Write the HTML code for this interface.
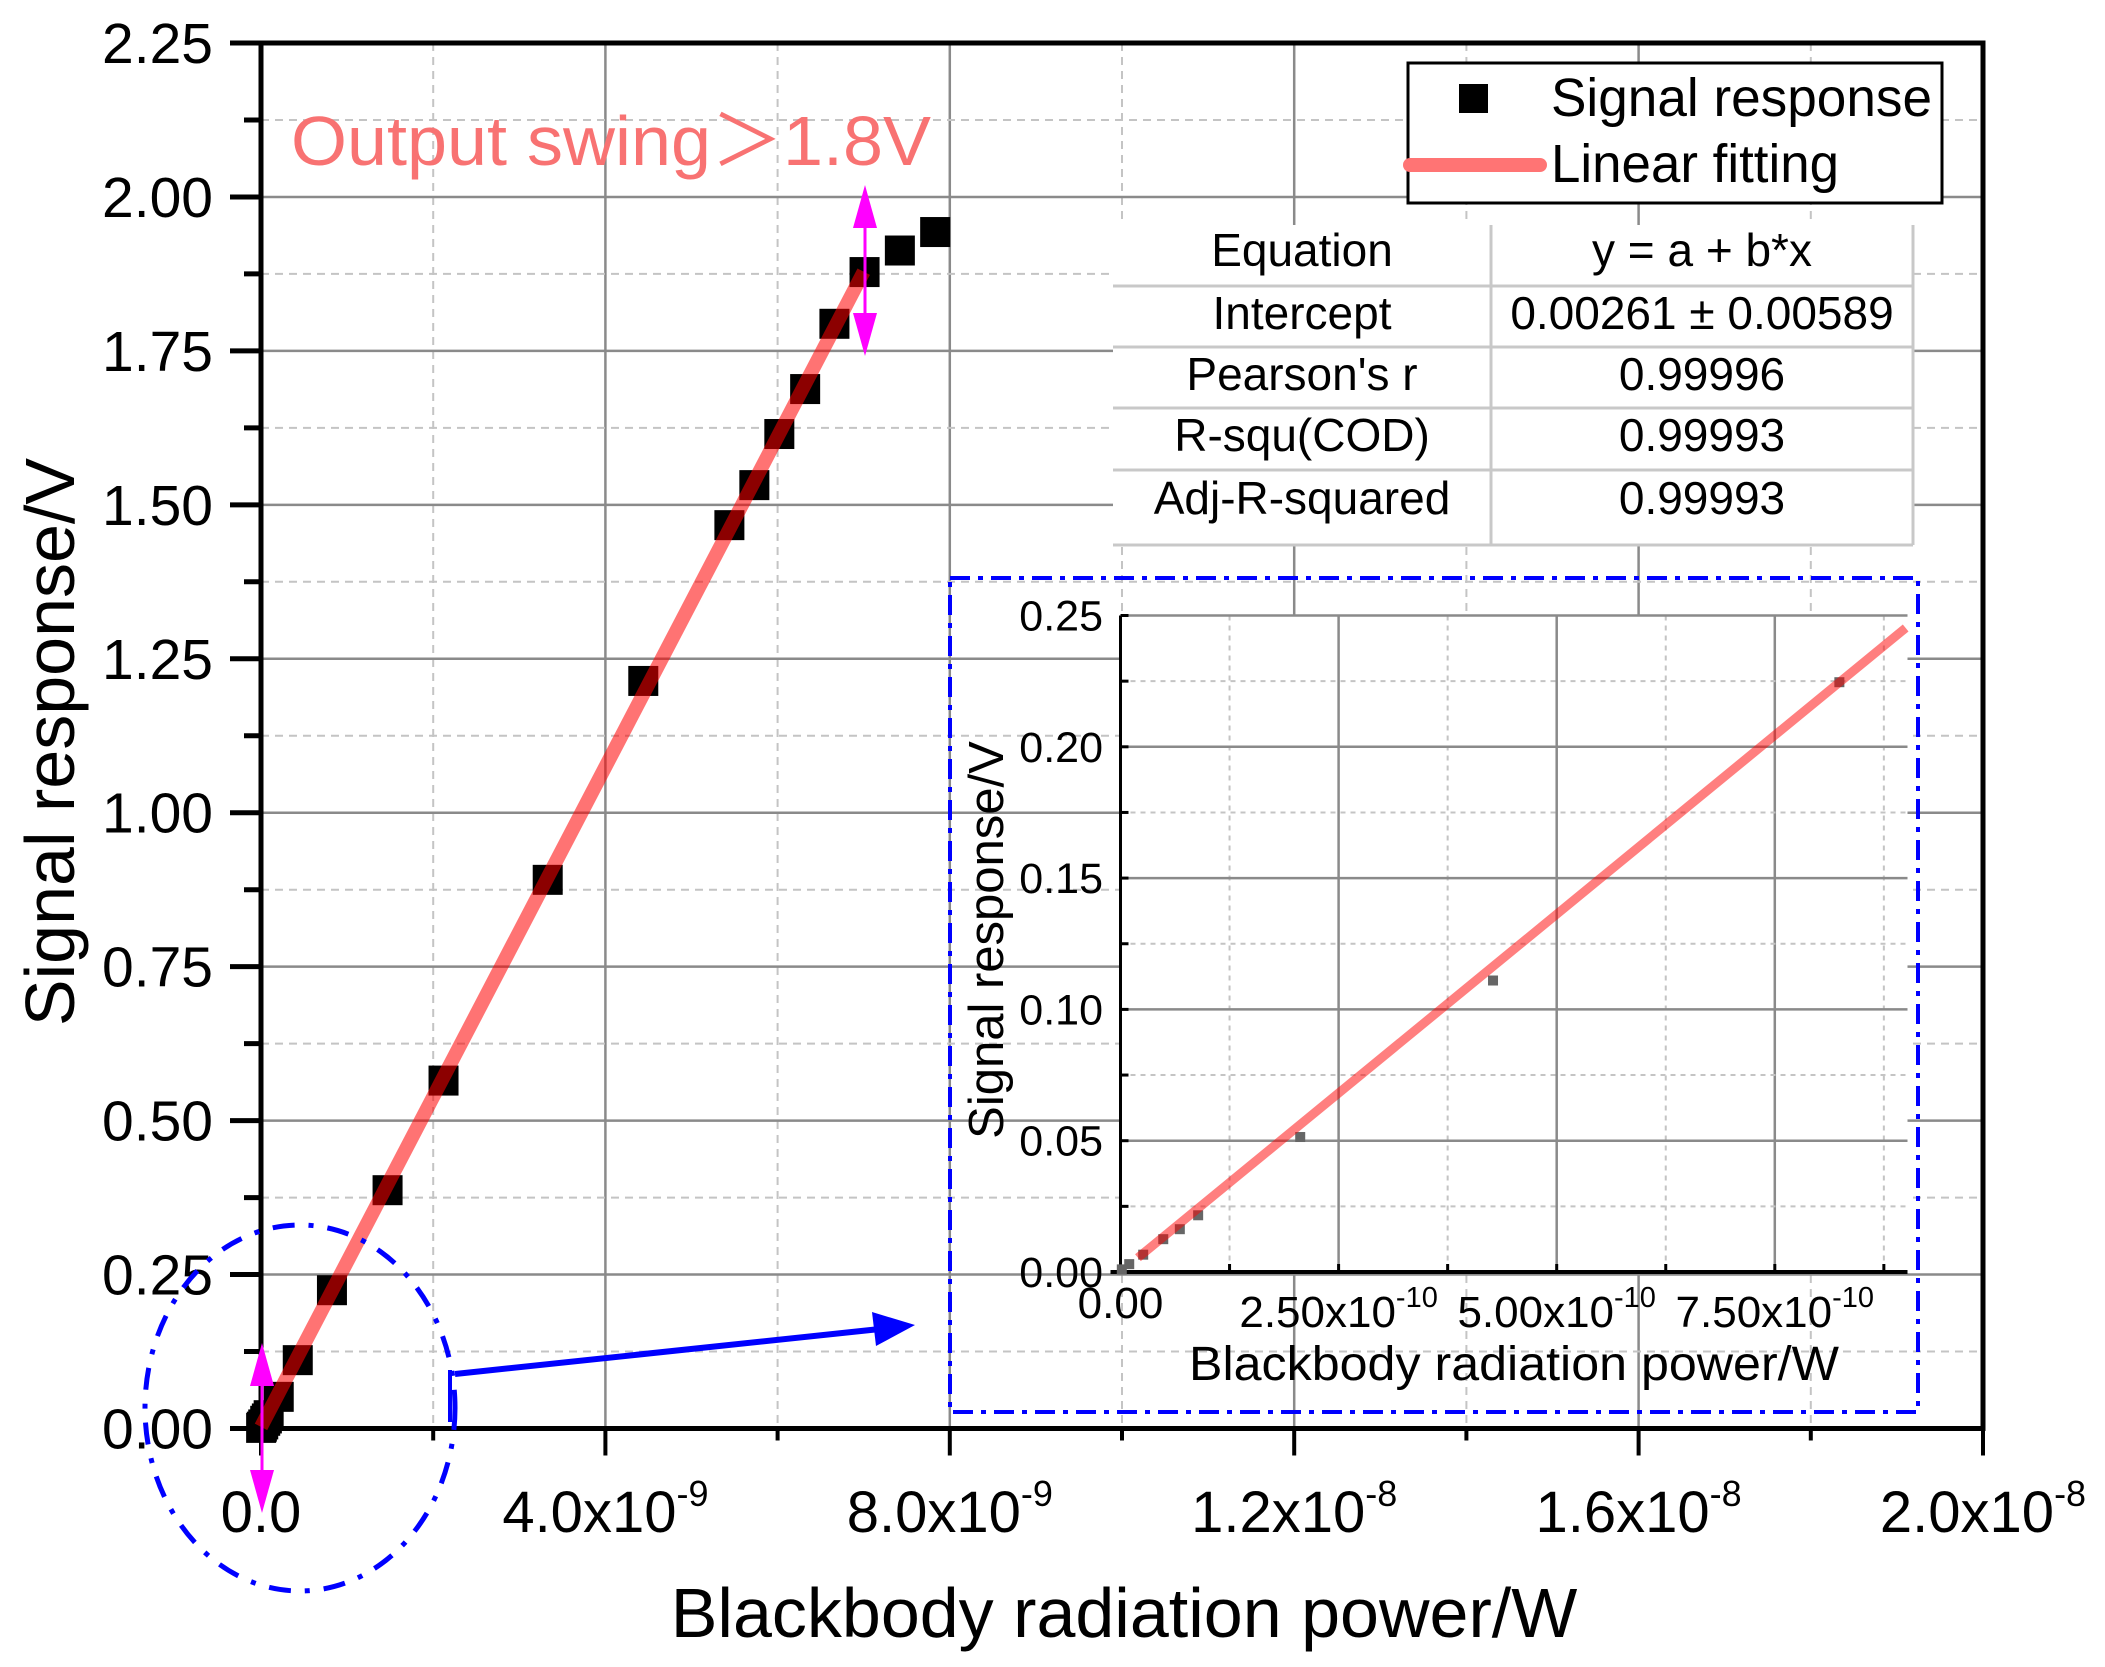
<!DOCTYPE html>
<html><head><meta charset="utf-8">
<style>
html,body{margin:0;padding:0;background:#fff;}
svg{display:block;}
text{font-family:"Liberation Sans","Noto Sans CJK SC",sans-serif;}
</style></head>
<body>
<svg id="chart" width="2105" height="1667" viewBox="0 0 2105 1667" xmlns="http://www.w3.org/2000/svg">
<rect x="0" y="0" width="2105" height="1667" fill="#fff"/>
<g id="main"></g>
</svg>
<script>
// ---- data (x in units of 1e-9 W, y in V) ----
const powerNW = [0.0015,0.010,0.026,0.049,0.068,0.089,0.206,0.427,0.824,1.47,2.12,3.33,4.44,5.44,5.73,6.02,6.32,6.66,7.01,7.42,7.83];
const signalV = [0.001,0.003,0.0066,0.0125,0.0163,0.0216,0.0514,0.111,0.2246,0.387,0.565,0.891,1.214,1.467,1.532,1.615,1.688,1.794,1.878,1.913,1.943];
const fitIntercept = 0.00261;
const fitSlopePerNW = 0.268;
const insetFitSlopePerNW = 0.2725;
const fitEndNW = 7.0;
const insetFitEndNW = 0.9;
const yTickLabels = ["0.00","0.25","0.50","0.75","1.00","1.25","1.50","1.75","2.00","2.25"];
const xTickMantissa = ["0.0","4.0x10","8.0x10","1.2x10","1.6x10","2.0x10"];
const xTickExp = ["","-9","-9","-8","-8","-8"];
const insetYTickLabels = ["0.00","0.05","0.10","0.15","0.20","0.25"];
const insetXTickMantissa = ["0.00","2.50x10","5.00x10","7.50x10"];
const insetXTickExp = ["","-10","-10","-10"];
const tableLabels = ["Equation","Intercept","Pearson's r","R-squ(COD)","Adj-R-squared"];
const tableValues = ["y = a + b*x","0.00261 \u00b1 0.00589","0.99996","0.99993","0.99993"];

const NS="http://www.w3.org/2000/svg";
const root=document.getElementById('main');
function mk(tag,attrs,parent){const e=document.createElementNS(NS,tag);for(const k in attrs)e.setAttribute(k,attrs[k]);(parent||root).appendChild(e);return e;}

const L=261,R=1983,T=43,B=1428.5;
const X=v=>L+(v/20)*(R-L);
const Y=v=>B-(v/2.25)*(B-T);
const IL=1120.5,IR=1907.5,IT=615.5,IB=1272;
const IX=v=>IL+(v/0.25)*218.1;
const IY=v=>IB-(v/0.25)*(IB-IT);

for(let i=0;i<=10;i++){const v=i*2;const x=X(v);
  const g=mk('line',{x1:x,y1:T,x2:x,y2:B,stroke:i%2==0?'#8a8a8a':'#c4c4c4','stroke-width':i%2==0?2.5:2,'stroke-dasharray':i%2==0?'none':'8 6'});
  
  
}
for(let i=1;i<=18;i++){const v=i*0.125;const y=Y(v);
  const g=mk('line',{x1:L,y1:y,x2:R,y2:y,stroke:i%2==0?'#8a8a8a':'#c4c4c4','stroke-width':i%2==0?2.5:2,'stroke-dasharray':i%2==0?'none':'8 6'});
  
  
}
for(let i=0;i<=18;i++){const y=Y(i*0.125);
  const t=mk('line',{x1:L-(i%2==0?31:17),y1:y,x2:L,y2:y,stroke:'#000','stroke-width':5});
  
  
}
for(let i=0;i<=10;i++){const x=X(i*2);
  const t=mk('line',{x1:x,y1:B,x2:x,y2:B+(i%2==0?27:12),stroke:'#000','stroke-width':4});
  
  
}
const fr=mk('rect',{x:L,y:T,width:R-L,height:B-T,fill:'none',stroke:'#000','stroke-width':5});



yTickLabels.forEach((s,i)=>{const t=mk('text',{x:213,y:Y(i*0.25)+20,'text-anchor':'end','font-size':57,fill:'#000'});t.textContent=s;
  
  
});
xTickMantissa.forEach((s,i)=>{const t=mk('text',{x:X(i*4),y:1532,'text-anchor':'middle','font-size':58,fill:'#000'});
  t.textContent=s;
  if(xTickExp[i]){const sp=mk('tspan',{'font-size':36,dy:-26},t);sp.textContent=xTickExp[i];}
  
  
});
let t=mk('text',{x:1124,y:1637,'text-anchor':'middle','font-size':70,fill:'#000'});t.textContent='Blackbody radiation power/W';


t=mk('text',{x:0,y:0,'text-anchor':'middle','font-size':70,fill:'#000',transform:'translate(74,742) rotate(-90)'});t.textContent='Signal response/V';



t=mk('text',{x:291,y:165,'font-size':70,fill:'#f87272',textLength:640,lengthAdjust:'spacingAndGlyphs'});t.textContent='Output swing\uFF1E1.8V';



powerNW.forEach((v,i)=>{const m=mk('rect',{x:X(v)-15,y:Y(signalV[i])-15,width:30,height:30,fill:'#000'});
  
  
});
let fl=mk('line',{x1:X(0),y1:Y(fitIntercept),x2:X(fitEndNW),y2:Y(fitIntercept+fitSlopePerNW*fitEndNW),stroke:'rgb(255,0,0)','stroke-opacity':0.55,'stroke-width':14,'stroke-linecap':'butt'});



function dblArrow(x,y1,y2,name){const g=mk('g',{});
  
  
  mk('line',{x1:x,y1:y1+10,x2:x,y2:y2-10,stroke:'#ff00ff','stroke-width':3},g);
  mk('polygon',{points:`${x},${y1} ${x-12},${y1+43} ${x+12},${y1+43}`,fill:'#ff00ff'},g);
  mk('polygon',{points:`${x},${y2} ${x-12},${y2-43} ${x+12},${y2-43}`,fill:'#ff00ff'},g);
}
dblArrow(865,185,356,'swing-arrow-top');
dblArrow(262,1343,1513,'swing-arrow-bottom');

let el=mk('ellipse',{cx:300,cy:1408,rx:155,ry:183,fill:'none',stroke:'#0000ff','stroke-width':5,'stroke-dasharray':'22 14 5 14'});


let ar=mk('g',{});


mk('line',{x1:450,y1:1370,x2:450,y2:1422,stroke:'#0000ff','stroke-width':4},ar);
mk('line',{x1:455,y1:1374,x2:880,y2:1329,stroke:'#0000ff','stroke-width':6},ar);
mk('polygon',{points:'915,1325 872,1312 876,1346',fill:'#0000ff'},ar);

const lg=mk('g',{});


mk('rect',{x:1408,y:63,width:534,height:140,fill:'#fff',stroke:'#000','stroke-width':3},lg);
mk('rect',{x:1459,y:84,width:29,height:29,fill:'#000'},lg);
mk('line',{x1:1410,y1:165,x2:1540,y2:165,stroke:'#ff7474','stroke-width':14,'stroke-linecap':'round'},lg);
t=mk('text',{x:1551,y:116,'font-size':54,fill:'#000',textLength:381,lengthAdjust:'spacingAndGlyphs'},lg);t.textContent='Signal response';


t=mk('text',{x:1551,y:182,'font-size':54,fill:'#000',textLength:288,lengthAdjust:'spacingAndGlyphs'},lg);t.textContent='Linear fitting';



const tb=mk('g',{});


mk('rect',{x:1113,y:225,width:800,height:320,fill:'#fff'},tb);
const rowEdges=[225,286,347,408,470,545];
rowEdges.slice(1).forEach(y=>mk('line',{x1:1113,y1:y,x2:1913,y2:y,stroke:'#c8c8c8','stroke-width':3},tb));
mk('line',{x1:1491,y1:225,x2:1491,y2:545,stroke:'#c8c8c8','stroke-width':3},tb);
mk('line',{x1:1913,y1:225,x2:1913,y2:545,stroke:'#c8c8c8','stroke-width':3},tb);
const rowBase=[266,329,390,451,514];
tableLabels.forEach((s,i)=>{const c=mk('text',{x:1302,y:rowBase[i],'text-anchor':'middle','font-size':46,fill:'#000'},tb);c.textContent=s;
  
  
  const d=mk('text',{x:1702,y:rowBase[i],'text-anchor':'middle','font-size':46,fill:'#000'},tb);d.textContent=tableValues[i];
  
  
});

const ins=mk('g',{});


mk('rect',{x:IL,y:IT,width:IR-IL,height:IB-IT,fill:'#fff'},ins);
for(let i=1;i<=7;i++){const x=IX(i*0.125);
  mk('line',{x1:x,y1:IT,x2:x,y2:IB,stroke:i%2==0?'#8a8a8a':'#c4c4c4','stroke-width':i%2==0?2.5:2,'stroke-dasharray':i%2==0?'none':'5 5'},ins);
}
for(let i=1;i<=10;i++){const y=IY(i*0.025);
  mk('line',{x1:IL,y1:y,x2:IR,y2:y,stroke:i%2==0?'#8a8a8a':'#c4c4c4','stroke-width':i%2==0?2.5:2,'stroke-dasharray':i%2==0?'none':'5 5'},ins);
}
mk('line',{x1:IL,y1:IT,x2:IL,y2:IB+2,stroke:'#000','stroke-width':3},ins);
mk('line',{x1:IL-10,y1:IB,x2:IR,y2:IB,stroke:'#000','stroke-width':4},ins);
for(let i=1;i<=7;i++){mk('line',{x1:IX(i*0.125),y1:IB,x2:IX(i*0.125),y2:IB-8,stroke:'#000','stroke-width':3},ins);}
for(let i=1;i<=10;i++){mk('line',{x1:IL,y1:IY(i*0.025),x2:IL+8,y2:IY(i*0.025),stroke:'#000','stroke-width':3},ins);}
insetYTickLabels.forEach((s,i)=>{const c=mk('text',{x:1103,y:IY(i*0.05)+15,'text-anchor':'end','font-size':43,fill:'#000'},ins);c.textContent=s;
  
  
});
insetXTickMantissa.forEach((s,i)=>{const c=mk('text',{x:IX(i*0.25),y:i==0?1318:1327,'text-anchor':'middle','font-size':44,fill:'#000'},ins);c.textContent=s;
  if(insetXTickExp[i]){const sp=mk('tspan',{'font-size':29,dy:-20},c);sp.textContent=insetXTickExp[i];}
  
  
});
t=mk('text',{x:1514,y:1380,'text-anchor':'middle','font-size':48,fill:'#000',textLength:650,lengthAdjust:'spacingAndGlyphs'},ins);t.textContent='Blackbody radiation power/W';


t=mk('text',{x:0,y:0,'text-anchor':'middle','font-size':49,fill:'#000',transform:'translate(1003,940) rotate(-90)'},ins);t.textContent='Signal response/V';


powerNW.forEach((v,i)=>{if(v>insetFitEndNW)return;const m=mk('rect',{x:IX(v)-5,y:IY(signalV[i])-5,width:10,height:10,fill:'#666'},ins);
  
  
});
fl=mk('line',{x1:IX(0.02),y1:IY(insetFitSlopePerNW*0.02),x2:IX(insetFitEndNW),y2:IY(insetFitSlopePerNW*insetFitEndNW),stroke:'rgb(255,0,0)','stroke-opacity':0.5,'stroke-width':9},ins);


let bx=mk('rect',{x:950,y:578,width:968,height:834,fill:'none',stroke:'#0000ff','stroke-width':4,'stroke-dasharray':'20 8 5 8'});


</script>
</body></html>
